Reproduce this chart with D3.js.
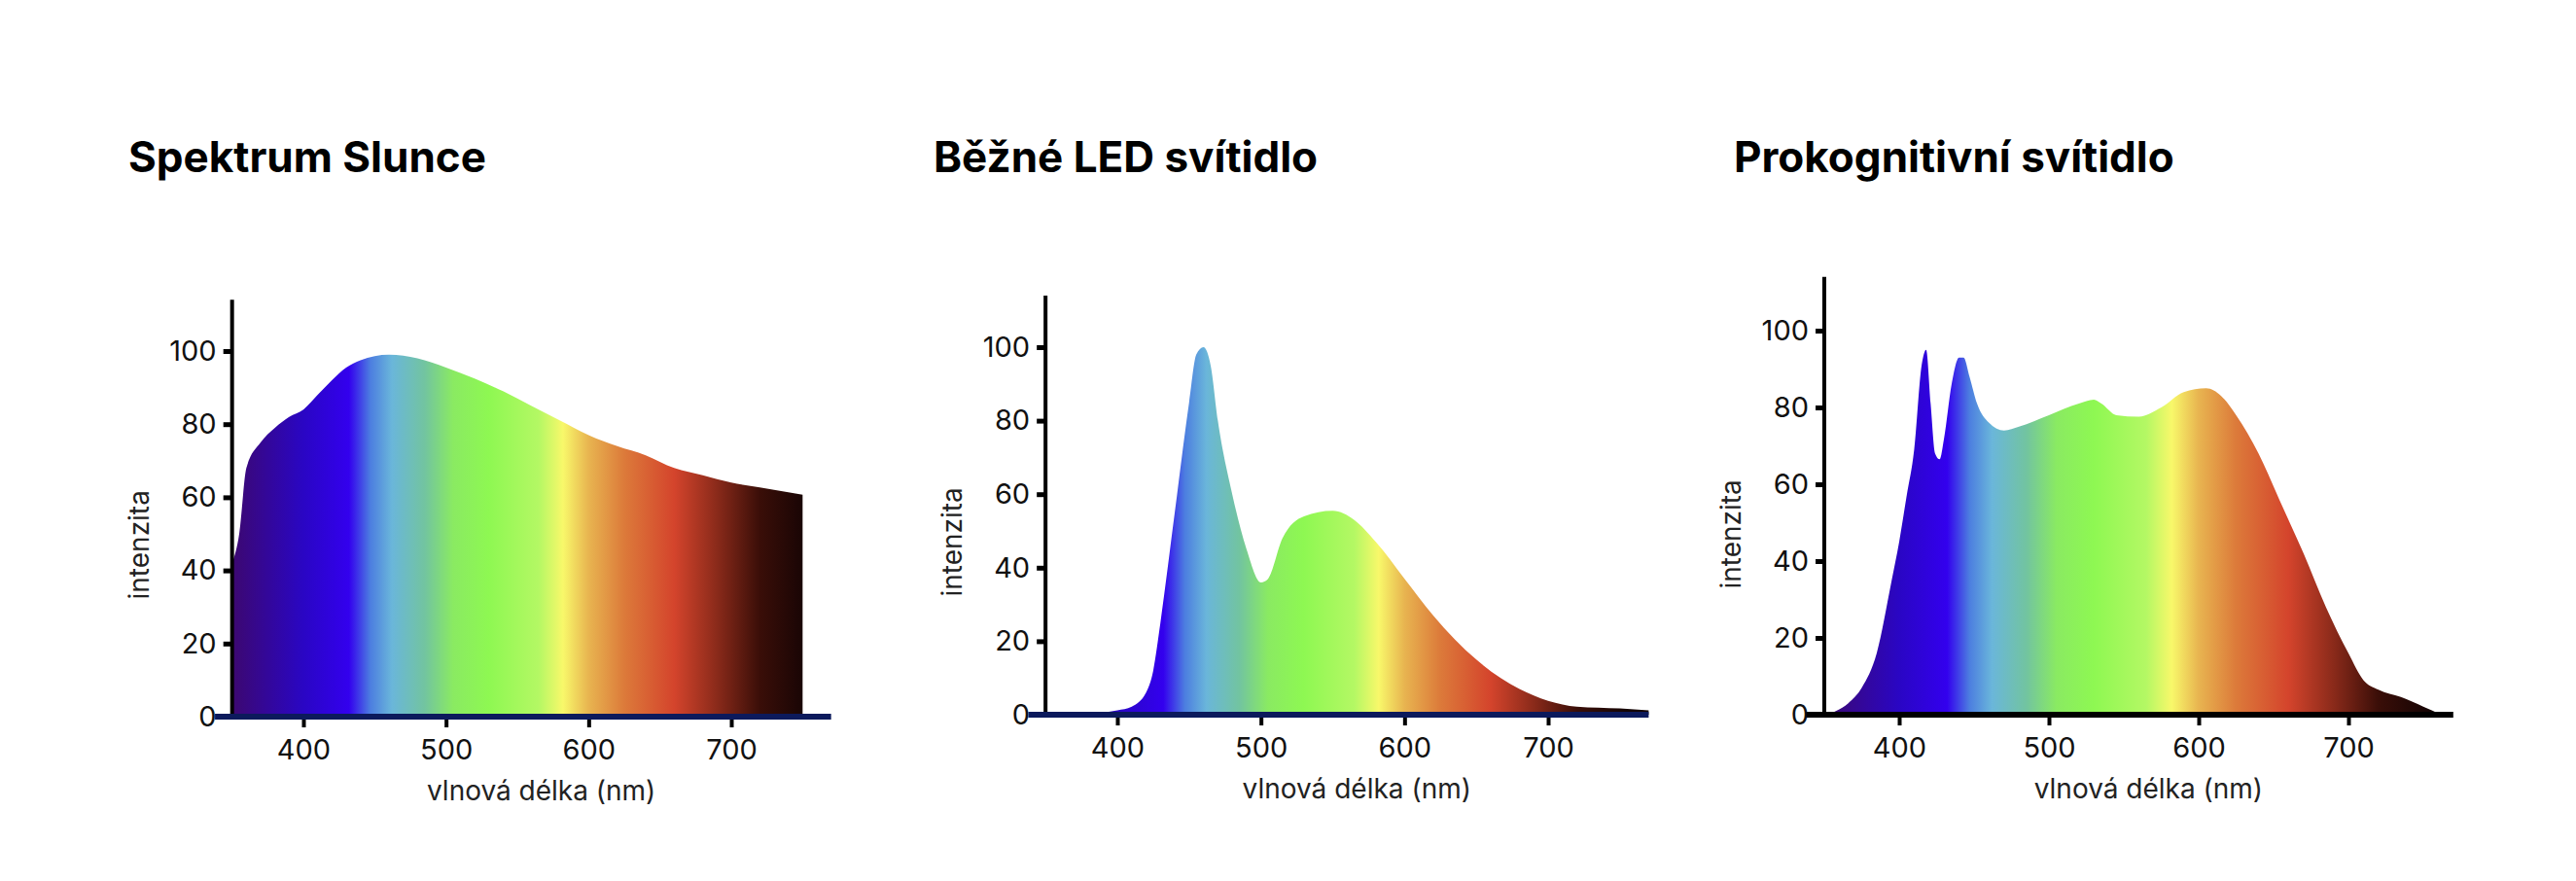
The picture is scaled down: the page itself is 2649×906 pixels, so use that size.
<!DOCTYPE html>
<html>
<head>
<meta charset="utf-8">
<script src="https://cdn.jsdelivr.net/npm/d3@7"></script>
<style>
  body { margin: 0; background: #fff; }
  text { font-family: Inter, "Open Sans", sans-serif; }
</style>
</head>
<body>
<svg id="chart" width="2649" height="906"></svg>
<script>
// titles
const titles = ["Spektrum Slunce", "Běžné LED svítidlo", "Prokognitivní svítidlo"];
const xTicks = [400, 500, 600, 700];
const yTicks = [0, 20, 40, 60, 80, 100];

// wavelength (nm) and intensity
const sunNm  = [350, 355, 360, 370, 380, 390, 400, 410, 420, 430, 440, 460, 480, 500, 520, 540, 560, 580, 600, 620, 640, 660, 680, 700, 720, 740, 750];
const sunVal = [42, 50, 68, 75, 79, 82, 84, 88, 92, 95.5, 97.5, 99, 98, 95.5, 92.5, 89, 85, 81, 77, 74, 71.5, 68, 66, 64, 62.7, 61.4, 60.7];

const ledNm  = [350, 385, 390, 400, 410, 420, 425, 430, 440, 450, 455, 460, 465, 470, 480, 490, 500, 505, 515, 530, 550, 565, 580, 600, 620, 650, 680, 700, 720, 750, 770];
const ledVal = [0, 0, 0.5, 1.2, 2.2, 6, 12, 25, 55, 85, 98, 100, 95, 80, 60, 45, 36, 37, 48, 54, 55.5, 53, 47, 37, 27, 15, 7, 3.8, 2.2, 1.7, 1.2];

const proNm  = [352, 358, 366, 375, 385, 395, 400, 405, 410, 415, 418, 421, 424, 427, 430, 435, 440, 443, 447, 452, 460, 470, 480, 500, 520, 530, 535, 545, 560, 575, 590, 605, 615, 625, 640, 655, 670, 685, 700, 710, 720, 735, 750, 762];
const proVal = [0, 1, 3, 7, 16, 35, 45, 57, 69, 91, 95, 81, 68, 66.5, 72, 86, 93, 93, 88, 81, 76, 74, 75, 78, 81, 82, 81, 78, 77.6, 80, 84, 85, 83, 78, 68, 55, 42, 28, 16, 9, 6.5, 4.6, 2.1, 0];

const spectrumStops = [
  [350, "#3c0870"], [400, "#2a06c4"], [432, "#3300ee"], [447, "#4c7ee0"], [462, "#6ab6da"],
  [485, "#72c4a0"], [505, "#8aea62"], [530, "#8ef852"], [565, "#b4f864"], [582, "#f8f86a"],
  [600, "#e8b450"], [625, "#dc7a3a"], [660, "#d4442c"], [690, "#8a2a1a"], [720, "#3a0e08"], [755, "#140404"]
];

const panels = [
  {nm: sunNm, val: sunVal, titleX: 132, x400: 312, x700: 752, y0: 737, y100: 361, line: [338, 770], navy: true},
  {nm: ledNm, val: ledVal, titleX: 960, x400: 1149, x700: 1592, y0: 735, y100: 357, line: [338, 770], navy: true},
  {nm: proNm, val: proVal, titleX: 1783, x400: 1953, x700: 2415, y0: 735, y100: 340, line: [338, 770], navy: false}
];

const svg = d3.select("#chart");
const defs = svg.append("defs");

panels.forEach(function(p, i) {
  let x = d3.scaleLinear().domain([400, 700]).range([p.x400, p.x700]);
  let y = d3.scaleLinear().domain([0, 100]).range([p.y0, p.y100]);
  let g = svg.append("g");

  // title
  g.append("text")
    .attr("x", p.titleX).attr("y", 177)
    .style("font-size", "44px").style("font-weight", 700)
    .attr("textLength", null)
    .text(titles[i]);

  // spectrum gradient
  let grad = defs.append("linearGradient")
    .attr("id", "spec" + i)
    .attr("gradientUnits", "userSpaceOnUse")
    .attr("x1", x(350)).attr("x2", x(755)).attr("y1", 0).attr("y2", 0);
  spectrumStops.forEach(function(s) {
    grad.append("stop")
      .attr("offset", (s[0] - 350) / 405)
      .attr("stop-color", s[1]);
  });

  let data = p.nm.map((d, k) => [d, p.val[k]]);
  let area = d3.area()
    .x(d => x(d[0]))
    .y0(y(0))
    .y1(d => y(d[1]))
    .curve(d3.curveMonotoneX);

  g.append("path")
    .datum(data)
    .attr("d", area)
    .attr("fill", "url(#spec" + i + ")");

  // y axis
  let yAxis = g.append("g")
    .attr("transform", `translate(${x(350)},0)`)
    .call(d3.axisLeft(y).tickValues(yTicks).tickSize(9).tickPadding(7));
  yAxis.select(".domain").remove();
  yAxis.append("line")
    .attr("x1", 0).attr("x2", 0)
    .attr("y1", y(0)).attr("y2", y(114))
    .attr("stroke", "#000").attr("stroke-width", 4);
  yAxis.selectAll(".tick line").attr("stroke", "#000").attr("stroke-width", 5);
  yAxis.selectAll(".tick text")
    .style("font-size", "29px").attr("fill", "#111");

  // x axis
  let xAxis = g.append("g")
    .attr("transform", `translate(0,${y(0)})`)
    .call(d3.axisBottom(x).tickValues(xTicks).tickSize(11).tickPadding(12));
  xAxis.select(".domain").remove();
  xAxis.append("line")
    .attr("x1", x(p.line[0])).attr("x2", x(p.line[1]))
    .attr("stroke", p.navy ? "#0c1a5c" : "#000").attr("stroke-width", 6);
  xAxis.selectAll(".tick line").attr("stroke", "#000").attr("stroke-width", 4);
  xAxis.selectAll(".tick text")
    .style("font-size", "29px").attr("fill", "#111");

  // axis titles
  g.append("text")
    .attr("x", (x(350) + x(p.line[1])) / 2 + 10)
    .attr("y", y(0) + 86)
    .attr("text-anchor", "middle")
    .style("font-size", "28px").attr("fill", "#222")
    .text("vlnová délka (nm)");

  g.append("text")
    .attr("transform", `translate(${x(350) - 86},${y(47)}) rotate(-90)`)
    .attr("text-anchor", "middle")
    .style("font-size", "28px").attr("fill", "#222")
    .text("intenzita");
});
</script>
</body>
</html>
